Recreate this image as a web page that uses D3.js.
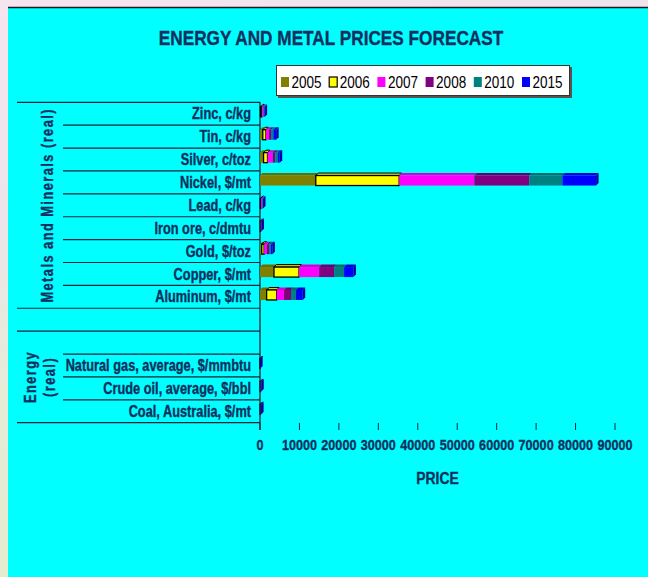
<!DOCTYPE html>
<html><head><meta charset="utf-8">
<script src="https://cdn.jsdelivr.net/npm/d3@7"></script>
<style>html,body{margin:0;padding:0;overflow:hidden;background:#fff}</style>
</head><body>
<svg id="c" width="648" height="577"></svg>
<script>
// ---------- DATA ----------
const chartTitle = "ENERGY AND METAL PRICES FORECAST";
const categories = ["Zinc, c/kg","Tin, c/kg","Silver, c/toz","Nickel, $/mt","Lead, c/kg","Iron ore, c/dmtu","Gold, $/toz","Copper, $/mt","Aluminum, $/mt","","","Natural gas, average, $/mmbtu","Crude oil, average, $/bbl","Coal, Australia, $/mt"];
const groupLabels = [["Metals and Minerals (real)"], [], ["Energy", "(real)"]];
const groupSizes = [9, 1, 4];
const years = ["2005","2006","2007","2008","2010","2015"];
const yearColors = ["#808000","#ffff00","#ff00ff","#800080","#008080","#0000ff"];
const v2005 = [138, 700, 900, 14140, 98, 65, 445, 3550, 1680, null, null, 7, 53, 47];
const v2006 = [327, 800, 1000, 21140, 129, 77, 604, 6350, 2540, null, null, 7, 64, 50];
const v2007 = [324, 800, 1300, 19040, 250, 85, 695, 5080, 1860, null, null, 7, 66, 55];
const v2008 = [150, 500, 700, 13960, 120, 60, 550, 3800, 1780, null, null, 7, 55, 45];
const v2010 = [120, 600, 600, 8380, 90, 50, 450, 2540, 1270, null, null, 6, 45, 40];
const v2015 = [110, 700, 500, 8550, 80, 45, 400, 2360, 1700, null, null, 6, 40, 38];
const seriesValues = [v2005, v2006, v2007, v2008, v2010, v2015];
const xTickValues = [0,10000,20000,30000,40000,50000,60000,70000,80000,90000];
const xAxisTitle = "PRICE";

// ---------- FONT ----------
function measure(font, s){ const c=document.createElement('canvas').getContext('2d'); c.font=font; return c.measureText(s).width; }
const wN = measure("bold 20px 'Liberation Sans Narrow'", "ENERGY AND METAL");
const wR = measure("bold 20px 'Liberation Sans'", "ENERGY AND METAL");
const hasNarrow = Math.abs(wN/wR - 0.82) < 0.05;
const FAM = hasNarrow ? "'Liberation Sans Narrow', 'Liberation Sans', Arial, sans-serif" : "'Liberation Sans', Arial, sans-serif";
const SX = hasNarrow ? 1 : 0.82;
const TXT = "#112f5e";

const svg = d3.select("#c");
function txt(parent, x, y, s, o={}) {
  const size=o.size||15, weight=o.weight||'bold', anchor=o.anchor||'start', fill=o.fill||TXT, rot=o.rotate||0, ls=o.ls||0;
  const t = parent.append('text')
    .attr('transform', `translate(${x},${y})${rot?` rotate(${rot})`:''} scale(${SX},1)`)
    .attr('font-family', FAM).attr('font-size', size).attr('font-weight', weight)
    .attr('text-anchor', anchor).attr('fill', fill).attr('letter-spacing', ls).text(s);
  if (weight === 'bold') t.attr('stroke', fill).attr('stroke-width', 0.35);
  return t;
}

// ---------- BACKGROUND ----------
const defs = svg.append('defs');
const bg = defs.append('linearGradient').attr('id','bg').attr('x1',0).attr('y1',0).attr('x2',0.3).attr('y2',1);
bg.append('stop').attr('offset','0%').attr('stop-color','#f6e4ee');
bg.append('stop').attr('offset','35%').attr('stop-color','#ece4ea');
bg.append('stop').attr('offset','60%').attr('stop-color','#e6ecd8');
bg.append('stop').attr('offset','100%').attr('stop-color','#e2ebcc');
svg.append('rect').attr('width',648).attr('height',577).attr('fill','url(#bg)');
svg.append('rect').attr('x',8).attr('y',7).attr('width',640).attr('height',570).attr('fill','#00ffff');
svg.append('line').attr('x1',8).attr('x2',648).attr('y1',7.5).attr('y2',7.5).attr('stroke','#1a1a1a').attr('stroke-width',1.5);

// ---------- TITLE ----------
txt(svg, 331, 45, chartTitle, {size:21, anchor:'middle'});

// ---------- SCALES ----------
const x = d3.scaleLinear().domain([0, 90000]).range([260, 615]);
const y = d3.scaleBand().domain(d3.range(categories.length)).range([102.3, 422.7]).padding(0);
const bw = y.bandwidth();
const LINE = "#14233c";

// ---------- CATEGORY AXIS (multi-level) ----------
const ax = svg.append('g');
let start = 0;
const groupBounds = [0];
groupSizes.forEach(n => { start += n; groupBounds.push(start); });
groupBounds.forEach(b => {
  const yy = b < categories.length ? y(b) : y.range()[1];
  ax.append('line').attr('x1',17).attr('x2',260).attr('y1',yy).attr('y2',yy).attr('stroke',LINE).attr('stroke-width',1.2);
});
groupSizes.forEach((n, gi) => {
  for (let k = 1; k < n; k++) {
    const yy = y(groupBounds[gi] + k);
    ax.append('line').attr('x1',63).attr('x2',260).attr('y1',yy).attr('y2',yy).attr('stroke',LINE).attr('stroke-width',1.2);
  }
});
categories.forEach((c, i) => {
  if (c) txt(ax, 251, y(i) + bw/2 + 5.6, c, {size:15.6, anchor:'end'});
});
groupLabels.forEach((lines, gi) => {
  if (!lines.length) return;
  const y0 = y(groupBounds[gi]);
  const y1 = groupBounds[gi+1] < categories.length ? y(groupBounds[gi+1]) : y.range()[1];
  const cy = (y0 + y1) / 2;
  lines.forEach((ln, li) => {
    const cx = lines.length === 1 ? 52.5 : 36 + li * 19;
    txt(ax, cx, cy, ln, {size:15.6, anchor:'middle', rotate:-90, ls:1.8});
  });
});
ax.append('line').attr('x1',260).attr('x2',260).attr('y1',102.3).attr('y2',430).attr('stroke',LINE).attr('stroke-width',1.3);

// ---------- X AXIS ----------
const xa = svg.append('g');
xTickValues.forEach(t => {
  xa.append('line').attr('x1',x(t)).attr('x2',x(t)).attr('y1',423).attr('y2',430).attr('stroke',LINE).attr('stroke-width',1);
  txt(xa, x(t), 450, d3.format("d")(t), {size:15.4, anchor:'middle'});
});
txt(xa, 437.5, 484, xAxisTitle, {size:17, anchor:'middle'});

// ---------- BARS (3D stacked) ----------
const DX = 2.5, DY = 2.5, FH = 10;
const bars = svg.append('g');
categories.forEach((c, i) => {
  const segs = [];
  let acc = 0;
  seriesValues.forEach((arr, si) => {
    const v = arr[i];
    if (v == null) return;
    segs.push({si, a: acc, b: acc + v});
    acc += v;
  });
  if (!segs.length) return;
  const yt = y(i) + bw * 0.2;
  segs.forEach((s, k) => {
    const x0 = x(s.a), x1 = x(s.b);
    const col = d3.color(yearColors[s.si]);
    const stroke = s.si === 1 ? '#000' : 'none';
    bars.append('path')
      .attr('d', `M${x0},${yt}L${x0+DX},${yt-DY}L${x1+DX},${yt-DY}L${x1},${yt}Z`)
      .attr('fill', col.darker(0.5)).attr('stroke', stroke).attr('stroke-width', 1);
    bars.append('rect').attr('x', x0).attr('y', yt).attr('width', Math.max(0, x1 - x0)).attr('height', FH)
      .attr('fill', col.toString()).attr('stroke', stroke).attr('stroke-width', 1.3);
    if (k === segs.length - 1) {
      bars.append('path')
        .attr('d', `M${x1},${yt}L${x1+DX},${yt-DY}L${x1+DX},${yt-DY+FH}L${x1},${yt+FH}Z`)
        .attr('fill', col.darker(1.3)).attr('stroke', stroke).attr('stroke-width', 1);
    }
  });
});

// ---------- LEGEND ----------
const lg = svg.append('g');
lg.append('rect').attr('x',278).attr('y',67).attr('width',294).attr('height',31).attr('fill','#555');
lg.append('rect').attr('x',276.5).attr('y',65.5).attr('width',293).attr('height',30).attr('fill','#fff').attr('stroke','#333').attr('stroke-width',1);
years.forEach((yr, i) => {
  const sx = 281 + i * 48.2;
  lg.append('rect').attr('x', sx).attr('y', 77).attr('width', 8).attr('height', 10)
    .attr('fill', yearColors[i]).attr('stroke', i === 1 ? '#000' : 'none').attr('stroke-width', 1.2);
  txt(lg, sx + 10.5, 87.5, yr, {size:16.5, weight:'normal', fill:'#000'});
});
</script>
</body></html>
